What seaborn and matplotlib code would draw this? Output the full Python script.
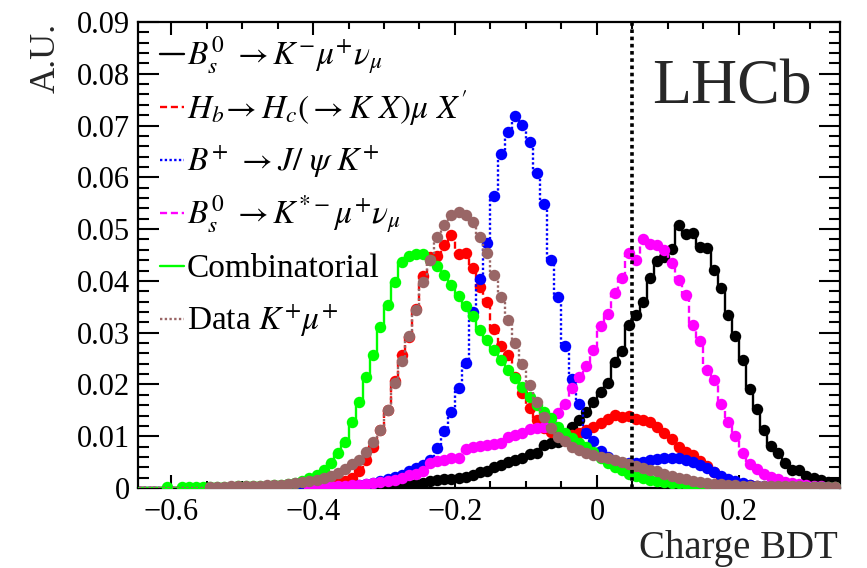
import numpy as np
import pandas as pd
import matplotlib
matplotlib.use("Agg")
import matplotlib.pyplot as plt
from matplotlib.ticker import MultipleLocator, FixedLocator, FixedFormatter
import seaborn as sns

# ---------------- data (bin width 0.01, centres -0.645 ... 0.335) ----------------
bin_centers = np.round(np.arange(-0.645, 0.336, 0.01), 3)

bs_kmunu = [  # black, B_s^0 -> K- mu+ nu
    0, 0, 0, 0, 0, 0, 0, 0, 0, 0,
    0, 0, 0, 0, 0, 0, 0, 0, 0, 0,
    0, 0, 0, 0, 0, 0, 0, 0, 0.0001, 0.0001,
    0.0001, 0.0002, 0.0002, 0.0003, 0.0003, 0.0004, 0.0005, 0.0006, 0.0007, 0.0008,
    0.0010, 0.0013, 0.0015, 0.0017, 0.0018, 0.0020, 0.0022, 0.0025, 0.0030, 0.0033,
    0.0040, 0.0044, 0.0050, 0.0054, 0.0058, 0.0066, 0.0067, 0.0084, 0.0087, 0.0089,
    0.0100, 0.0117, 0.0131, 0.0147, 0.0167, 0.0186, 0.0202, 0.0244, 0.0265, 0.0315,
    0.0334, 0.0360, 0.0405, 0.0438, 0.0447, 0.0462, 0.0507, 0.0490, 0.0492, 0.0466,
    0.0464, 0.0421, 0.0386, 0.0334, 0.0293, 0.0247, 0.0192, 0.0152, 0.0112, 0.0081,
    0.0068, 0.0049, 0.0035, 0.0034, 0.0024, 0.0020, 0.0016, 0.0012, 0.0009,
]

hb_hc = [  # red, H_b -> H_c(-> K X) mu X'
    0, 0, 0, 0, 0, 0, 0, 0, 0, 0,
    0, 0, 0, 0, 0, 0, 0, 0, 0, 0.0001,
    0.0001, 0.0002, 0.0002, 0.0003, 0.0003, 0.0004, 0.0005, 0.0007, 0.0009, 0.0013,
    0.0019, 0.0033, 0.0054, 0.0080, 0.0112, 0.0151, 0.0207, 0.0257, 0.0292, 0.0345,
    0.0410, 0.0447, 0.0448, 0.0470, 0.0488, 0.0452, 0.0453, 0.0424, 0.0389, 0.0360,
    0.0308, 0.0275, 0.0257, 0.0215, 0.0183, 0.0154, 0.0131, 0.0115, 0.0108, 0.0104,
    0.0102, 0.0103, 0.0106, 0.0112, 0.0118, 0.0126, 0.0134, 0.0141, 0.0138, 0.0139,
    0.0134, 0.0131, 0.0128, 0.0118, 0.0107, 0.0094, 0.0080, 0.0070, 0.0063, 0.0053,
    0.0042, 0.0030, 0.0020, 0.0014, 0.0010, 0.0007, 0.0005, 0.0003, 0.0002, 0.0002,
    0.0001, 0.0001, 0.0001, 0.0001, 0.0001, 0, 0, 0, 0,
]

bu_jpsik = [  # blue, B+ -> J/psi K+
    0, 0, 0, 0, 0, 0, 0, 0, 0, 0,
    0, 0, 0, 0, 0, 0, 0, 0, 0, 0,
    0.0001, 0.0001, 0.0001, 0.0001, 0.0001, 0.0001, 0.0001, 0.0002, 0.0002, 0.0002,
    0.0004, 0.0006, 0.0008, 0.0010, 0.0013, 0.0017, 0.0021, 0.0026, 0.0032, 0.0039,
    0.0045, 0.0054, 0.0077, 0.0110, 0.0147, 0.0194, 0.0241, 0.0340, 0.0403, 0.0474,
    0.0564, 0.0645, 0.0688, 0.0718, 0.0702, 0.0668, 0.0609, 0.0548, 0.0441, 0.0369,
    0.0275, 0.0210, 0.0163, 0.0106, 0.0090, 0.0072, 0.0060, 0.0052, 0.0049, 0.0048,
    0.0049, 0.0051, 0.0054, 0.0056, 0.0058, 0.0058, 0.0057, 0.0054, 0.0050, 0.0044,
    0.0038, 0.0030, 0.0024, 0.0018, 0.0013, 0.0009, 0.0006, 0.0004, 0.0003, 0.0002,
    0.0001, 0.0001, 0.0001, 0.0001, 0, 0, 0, 0, 0,
]

bs_kstmunu = [  # magenta, B_s^0 -> K*- mu+ nu
    0, 0, 0, 0, 0, 0, 0, 0, 0, 0,
    0, 0, 0, 0, 0, 0, 0, 0, 0, 0,
    0, 0, 0, 0, 0.0001, 0.0002, 0.0002, 0.0003, 0.0003, 0.0004,
    0.0005, 0.0006, 0.0007, 0.0009, 0.0011, 0.0013, 0.0016, 0.0020, 0.0026, 0.0028,
    0.0033, 0.0048, 0.0052, 0.0055, 0.0057, 0.0057, 0.0075, 0.0079, 0.0081, 0.0084,
    0.0085, 0.0086, 0.0099, 0.0103, 0.0107, 0.0113, 0.0115, 0.0118, 0.0130, 0.0144,
    0.0163, 0.0193, 0.0215, 0.0236, 0.0266, 0.0312, 0.0337, 0.0377, 0.0405, 0.0453,
    0.0440, 0.0480, 0.0472, 0.0469, 0.0459, 0.0434, 0.0402, 0.0373, 0.0315, 0.0284,
    0.0228, 0.0208, 0.0163, 0.0128, 0.0101, 0.0068, 0.0046, 0.0036, 0.0028, 0.0022,
    0.0017, 0.0012, 0.0009, 0.0007, 0.0005, 0.0004, 0.0003, 0.0002, 0.0002,
]

combinatorial = [  # green
    0, 0, 0, 0, 0.0001, 0, 0.0001, 0.0001, 0.0001, 0.0001,
    0.0001, 0.0002, 0.0002, 0.0002, 0.0003, 0.0003, 0.0003, 0.0004, 0.0004, 0.0005,
    0.0006, 0.0008, 0.0010, 0.0014, 0.0019, 0.0026, 0.0035, 0.0048, 0.0068, 0.0089,
    0.0128, 0.0167, 0.0215, 0.0257, 0.0311, 0.0353, 0.0398, 0.0437, 0.0448, 0.0452,
    0.0452, 0.0441, 0.0428, 0.0411, 0.0392, 0.0371, 0.0351, 0.0332, 0.0305, 0.0286,
    0.0266, 0.0247, 0.0228, 0.0212, 0.0196, 0.0176, 0.0160, 0.0147, 0.0135, 0.0118,
    0.0106, 0.0097, 0.0087, 0.0079, 0.0070, 0.0058, 0.0049, 0.0041, 0.0034, 0.0028,
    0.0023, 0.0019, 0.0016, 0.0014, 0.0012, 0.0010, 0.0009, 0.0007, 0.0006, 0.0005,
    0.0004, 0.0004, 0.0003, 0.0003, 0.0002, 0.0002, 0.0002, 0.0002, 0.0001, 0.0001,
    0.0001, 0.0001, 0.0001, 0.0001, 0.0001, 0.0001, 0.0001, 0.0001, 0.0001,
]

data_kmu = [  # brown, data K+ mu+
    0, 0, 0, 0, 0, 0, 0, 0, 0, 0,
    0.0002, 0.0002, 0.0002, 0.0003, 0.0003, 0.0003, 0.0004, 0.0004, 0.0005, 0.0005,
    0.0006, 0.0007, 0.0009, 0.0011, 0.0013, 0.0015, 0.0019, 0.0024, 0.0029, 0.0036,
    0.0046, 0.0054, 0.0070, 0.0089, 0.0112, 0.0151, 0.0202, 0.0245, 0.0293, 0.0344,
    0.0398, 0.0441, 0.0485, 0.0508, 0.0527, 0.0534, 0.0527, 0.0514, 0.0485, 0.0453,
    0.0411, 0.0369, 0.0324, 0.0281, 0.0239, 0.0199, 0.0167, 0.0138, 0.0115, 0.0099,
    0.0090, 0.0080, 0.0074, 0.0067, 0.0064, 0.0060, 0.0057, 0.0054, 0.0050, 0.0046,
    0.0042, 0.0038, 0.0035, 0.0032, 0.0027, 0.0023, 0.0020, 0.0017, 0.0014, 0.0012,
    0.0010, 0.0008, 0.0007, 0.0006, 0.0005, 0.0004, 0.0004, 0.0004, 0.0003, 0.0003,
    0.0003, 0.0003, 0.0003, 0.0003, 0.0002, 0.0002, 0.0002, 0.0002, 0.0002,
]

labels = [
    r"$B^{\mathit{0}}_{s}\ \rightarrow K^{-}\mu^{+}\nu_{\mu}$",
    r"$H_{b}\!\rightarrow H_{c}(\rightarrow K\ X)\mu\ X'$",
    r"$B^{+}\ \rightarrow J/\ \psi\ K^{+}$",
    r"$B^{\mathit{0}}_{s}\ \rightarrow K^{*-}\mu^{+}\nu_{\mu}$",
    "Combinatorial",
    r"Data $K^{+}\mu^{+}$",
]
series = [bs_kmunu, hb_hc, bu_jpsik, bs_kstmunu, combinatorial, data_kmu]
colors = ["#000000", "#ff0000", "#0000ff", "#ff00ff", "#00ff00", "#996666"]
styles = ["-", (0, (3.0, 1.6)), (0, (1.0, 1.0)), (0, (3.0, 1.6)), "-", (0, (1.0, 1.0))]

bdt_cut = 0.05
x_ticks = [-0.6, -0.4, -0.2, 0.0, 0.2]
x_ticklabels = ["\u22120.6", "\u22120.4", "\u22120.2", "0", "0.2"]
y_ticks = [0, 0.01, 0.02, 0.03, 0.04, 0.05, 0.06, 0.07, 0.08, 0.09]
y_ticklabels = ["0", "0.01", "0.02", "0.03", "0.04", "0.05", "0.06", "0.07", "0.08", "0.09"]

# ---------------- style ----------------
sns.set_theme(style="white")
plt.rcParams["font.family"] = ["Liberation Serif", "DejaVu Serif"]
plt.rcParams["mathtext.fontset"] = "stix"
plt.rcParams["axes.unicode_minus"] = True

fig = plt.figure(figsize=(8.67, 5.68), dpi=100)
ax = fig.add_axes([138 / 867, 80 / 568, 702 / 867, 466 / 568])
ax.set_facecolor("white")

for k, (vals, col, ls) in enumerate(zip(series, colors, styles)):
    df = pd.DataFrame({"x": bin_centers, "y": vals})
    sns.lineplot(data=df, x="x", y="y", ax=ax, color=col, linestyle=ls,
                 linewidth=1.7, drawstyle="steps-mid", estimator=None,
                 errorbar=None, zorder=2 + 2 * k)
    pts = df[df["y"] > 0]
    sns.scatterplot(data=pts, x="x", y="y", ax=ax, color=col, s=68,
                    linewidth=0, zorder=3 + 2 * k)

ax.axvline(bdt_cut, color="black", linewidth=2.6, linestyle=(0, (1.0, 1.0)), zorder=20)

ax.set_xlim(-0.6465, 0.3423)
ax.set_ylim(0, 0.09)
ax.set_xlabel("")
ax.set_ylabel("")

ax.xaxis.set_major_locator(FixedLocator(x_ticks))
ax.xaxis.set_major_formatter(FixedFormatter(x_ticklabels))
ax.xaxis.set_minor_locator(MultipleLocator(0.05))
ax.yaxis.set_major_locator(FixedLocator(y_ticks))
ax.yaxis.set_major_formatter(FixedFormatter(y_ticklabels))
ax.yaxis.set_minor_locator(MultipleLocator(0.002))

ax.tick_params(which="both", direction="in", top=True, right=True,
               bottom=True, left=True, width=1.5, color="black",
               labelsize=22, labelcolor="black")
ax.tick_params(axis="x", which="major", length=9.5, pad=7)
ax.tick_params(axis="x", which="minor", length=5)
ax.tick_params(axis="y", which="major", length=15, pad=6)
ax.tick_params(axis="y", which="minor", length=8)
for sp in ax.spines.values():
    sp.set_visible(True)
    sp.set_linewidth(1.6)
    sp.set_color("black")

# axis titles (ROOT style)
fig.text(46 / 867, 1 - 23 / 568, "A.U.", rotation=90, ha="center", va="top", fontsize=26)
fig.text(838 / 867, 1 - 558 / 568, "Charge BDT", ha="right", va="baseline", fontsize=28)

# LHCb label
ax.text((652 - 138) / 702, (488 - 104) / 466, "LHCb", transform=ax.transAxes,
        ha="left", va="baseline", fontsize=46, zorder=30)

# legend drawn by hand (ROOT TLegend look)
baselines_px = [65, 118, 171, 224, 277, 330]
for lab, col, ls, b in zip(labels, colors, styles, baselines_px):
    yl = (488 - (b - 11)) / 466
    ax.plot([(160 - 138) / 702, (184 - 138) / 702], [yl, yl], transform=ax.transAxes,
            color=col, linestyle=ls, linewidth=1.7, zorder=30)
    ax.text((187 - 138) / 702, (488 - b) / 466, lab, transform=ax.transAxes,
            ha="left", va="baseline", fontsize=24, color="black", zorder=30)

fig.savefig("out.png", dpi=100, facecolor="white")
